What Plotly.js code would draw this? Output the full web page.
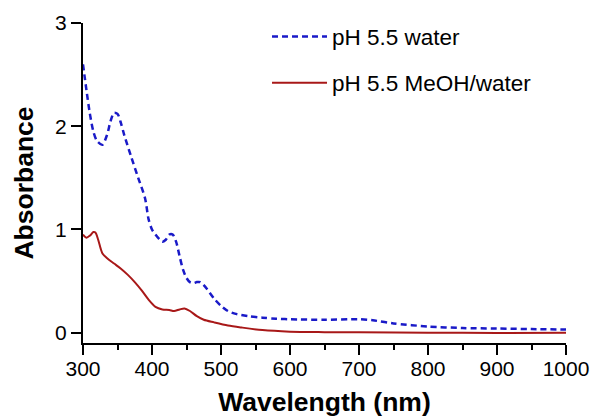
<!DOCTYPE html>
<html>
<head>
<meta charset="utf-8">
<script src="https://cdn.plot.ly/plotly-3.0.1.min.js"></script>
<style>html,body{margin:0;padding:0;background:#fff;}#chart{width:591px;height:417px;}</style>
</head>
<body>
<div id="chart"></div>
<script>
// Wavelength (nm) and absorbance, pH 5.5 water
const wlWater = [300, 305, 310, 315, 320, 328, 335, 340, 345, 350, 355, 360, 370, 380, 390, 395, 400, 405, 410, 415, 420, 425, 430, 435, 440, 445, 450, 455, 460, 465, 470, 475, 480, 490, 500, 510, 520, 540, 560, 580, 600, 650, 700, 720, 750, 800, 850, 900, 950, 1000];
const absWater = [2.60, 2.35, 2.12, 1.95, 1.86, 1.82, 1.92, 2.05, 2.13, 2.12, 2.03, 1.91, 1.70, 1.50, 1.30, 1.10, 1.00, 0.95, 0.91, 0.88, 0.90, 0.95, 0.95, 0.88, 0.74, 0.61, 0.53, 0.49, 0.48, 0.49, 0.49, 0.46, 0.42, 0.33, 0.26, 0.21, 0.185, 0.16, 0.145, 0.135, 0.13, 0.125, 0.13, 0.12, 0.09, 0.06, 0.045, 0.04, 0.035, 0.03];
// pH 5.5 MeOH/water
const wlMeoh = [300, 305, 310, 315, 318, 322, 328, 335, 345, 355, 365, 375, 385, 395, 405, 415, 425, 432, 440, 447, 455, 465, 475, 490, 510, 530, 560, 600, 650, 700, 800, 900, 1000];
const absMeoh = [0.95, 0.92, 0.94, 0.975, 0.97, 0.90, 0.77, 0.72, 0.67, 0.62, 0.56, 0.49, 0.41, 0.32, 0.25, 0.225, 0.22, 0.21, 0.225, 0.235, 0.21, 0.16, 0.125, 0.10, 0.07, 0.05, 0.025, 0.01, 0.005, 0.003, 0.0, -0.003, 0.0];

const seriesNames = ['pH 5.5 water', 'pH 5.5 MeOH/water'];
const xTicks = [300, 400, 500, 600, 700, 800, 900, 1000];
const yTicks = [0, 1, 2, 3];

const font = 'Arial, "Liberation Sans", sans-serif';

const traces = [
  {x: wlWater, y: absWater, name: seriesNames[0], mode: 'lines', legendgroup: 'a',
   line: {color: '#1a1ac8', width: 2.5, dash: '6px,4px', shape: 'spline', smoothing: 0.8}},
  {x: wlMeoh, y: absMeoh, name: seriesNames[1], mode: 'lines', legendgroup: 'b',
   line: {color: '#a81818', width: 2, shape: 'spline', smoothing: 0.8}}
];

const layout = {
  width: 591, height: 417,
  margin: {l: 83, r: 25, t: 23, b: 74, pad: 0},
  paper_bgcolor: '#fff', plot_bgcolor: '#fff',
  font: {family: font, color: '#000'},
  showlegend: true,
  legend: {x: 0.381, y: 1.024, xanchor: 'left', yanchor: 'top', font: {size: 22.5, family: font},
           bgcolor: 'rgba(0,0,0,0)', tracegroupgap: 14, traceorder: 'grouped', itemwidth: 55},
  xaxis: {
    range: [300, 1000], tickvals: xTicks, ticktext: xTicks.map(String),
    showline: true, linecolor: '#000', linewidth: 2, ticks: 'outside', ticklen: 10, tickwidth: 2, tickcolor: '#000',
    minor: {dtick: 50, tick0: 300, ticks: 'outside', ticklen: 5, tickwidth: 2, tickcolor: '#000', showgrid: false},
    showgrid: false, zeroline: false, tickfont: {size: 21, family: font}, ticklabelstandoff: -4,
    title: {text: 'Wavelength (nm)', font: {size: 26.5, family: font, weight: 'bold'}, standoff: 15},
    automargin: false
  },
  yaxis: {
    range: [-0.1, 3], tickvals: yTicks, ticktext: yTicks.map(String),
    showline: true, linecolor: '#000', linewidth: 2, ticks: 'outside', ticklen: 10, tickwidth: 2, tickcolor: '#000',
    showgrid: false, zeroline: false, tickfont: {size: 21, family: font},
    title: {text: 'Absorbance', font: {size: 26.5, family: font, weight: 'bold'}, standoff: 14},
    automargin: false
  }
};

Plotly.newPlot('chart', traces, layout, {displayModeBar: false, staticPlot: true});
</script>
</body>
</html>
